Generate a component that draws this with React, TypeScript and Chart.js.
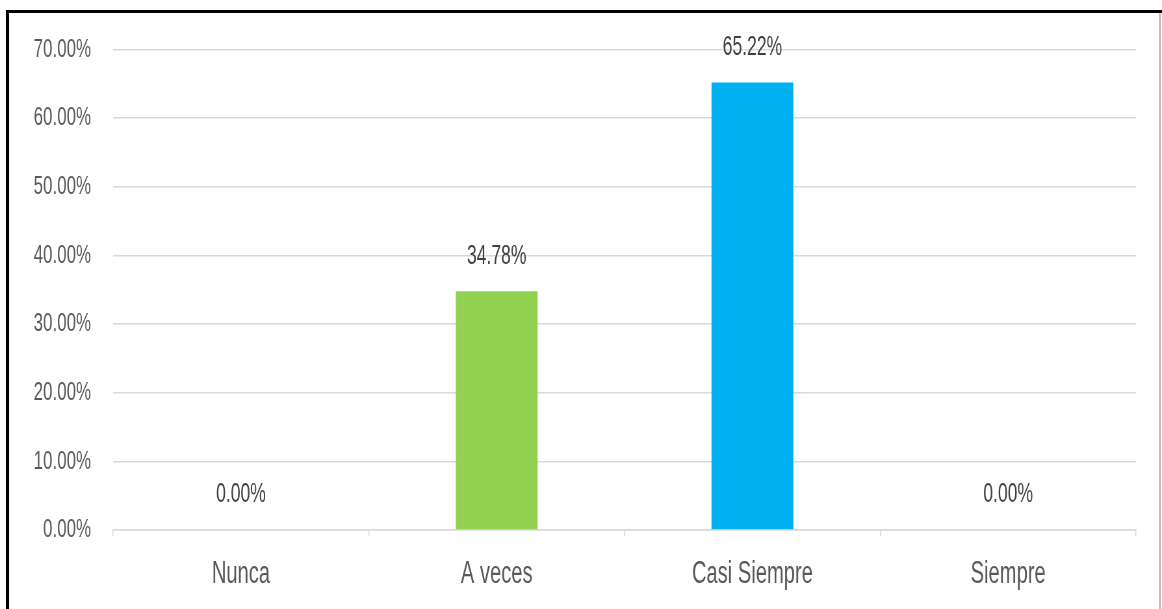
import React, { useEffect, useRef } from "react";
import { Chart, registerables } from "chart.js";

Chart.register(...registerables);

const categories: string[] = ["Nunca", "A veces", "Casi Siempre", "Siempre"];
const values: number[] = [0, 34.78, 65.22, 0];
const barColors: string[] = ["#A5A5A5", "#92D050", "#00B0F0", "#FFC000"];
const yTicks: number[] = [0, 10, 20, 30, 40, 50, 60, 70];

const FINAL_W = 1162;
const FINAL_H = 609;
const INNER_W = 1788;
const SX = FINAL_W / INNER_W;

const dataLabelPlugin = {
  id: "dataLabels",
  afterDatasetsDraw(chart: any) {
    const ctx = chart.ctx;
    const meta = chart.getDatasetMeta(0);
    ctx.save();
    ctx.font = "27px 'Liberation Sans', Arial, sans-serif";
    ctx.fillStyle = "#404040";
    ctx.textAlign = "center";
    ctx.textBaseline = "middle";
    meta.data.forEach((el: any, i: number) => {
      const v = chart.data.datasets[0].data[i] as number;
      ctx.fillText(v.toFixed(2) + "%", el.x, el.y - 35);
    });
    ctx.restore();
  },
};

export default function App() {
  const canvasRef = useRef<HTMLCanvasElement | null>(null);

  useEffect(() => {
    if (!canvasRef.current) return;
    const chart = new Chart(canvasRef.current, {
      type: "bar",
      data: {
        labels: categories,
        datasets: [
          {
            data: values,
            backgroundColor: barColors,
            barPercentage: 0.32,
            categoryPercentage: 1,
          },
        ],
      },
      options: {
        animation: false,
        responsive: true,
        maintainAspectRatio: false,
        devicePixelRatio: 1,
        layout: { padding: { top: 49, left: 0, right: 40, bottom: 0 } },
        plugins: { legend: { display: false }, tooltip: { enabled: false } },
        scales: {
          x: {
            afterFit: (axis: any) => {
              axis.height = 79;
            },
            border: { display: true, color: "#d9d9d9", width: 1.5 },
            grid: {
              drawOnChartArea: false,
              drawTicks: true,
              tickLength: 6,
              offset: true,
              color: "#d9d9d9",
              lineWidth: 1.5,
            },
            ticks: {
              color: "#595959",
              padding: 20,
              font: { family: "'Liberation Sans', Arial, sans-serif", size: 31 },
              maxRotation: 0,
              autoSkip: false,
            },
          },
          y: {
            min: 0,
            max: 70,
            afterFit: (axis: any) => {
              axis.width = 174;
            },
            afterBuildTicks: (axis: any) => {
              axis.ticks = yTicks.map((v) => ({ value: v }));
            },
            border: { display: false },
            grid: { drawTicks: false, color: "#d9d9d9", lineWidth: 1.5 },
            ticks: {
              color: "#595959",
              padding: 34,
              font: { family: "'Liberation Sans', Arial, sans-serif", size: 26 },
              callback: (v: any) => Number(v).toFixed(2) + "%",
            },
          },
        },
      },
      plugins: [dataLabelPlugin],
    });
    return () => chart.destroy();
  }, []);

  return (
    <div
      style={{
        position: "absolute",
        left: 0,
        top: 0,
        width: FINAL_W,
        height: FINAL_H,
        overflow: "hidden",
        background: "#ffffff",
      }}
    >
      <div
        style={{
          position: "absolute",
          left: 0,
          top: 0,
          width: INNER_W,
          height: FINAL_H,
          transform: `scaleX(${SX})`,
          transformOrigin: "0 0",
        }}
      >
        <canvas ref={canvasRef} />
      </div>
      <div style={{ position: "absolute", left: 6, top: 10, width: FINAL_W - 6, height: 3, background: "#000" }} />
      <div style={{ position: "absolute", left: 6, top: 10, width: 3, height: FINAL_H - 10, background: "#000" }} />
      <div style={{ position: "absolute", left: 1159, top: 13, width: 2, height: FINAL_H - 13, background: "#bfbfbf" }} />
    </div>
  );
}
